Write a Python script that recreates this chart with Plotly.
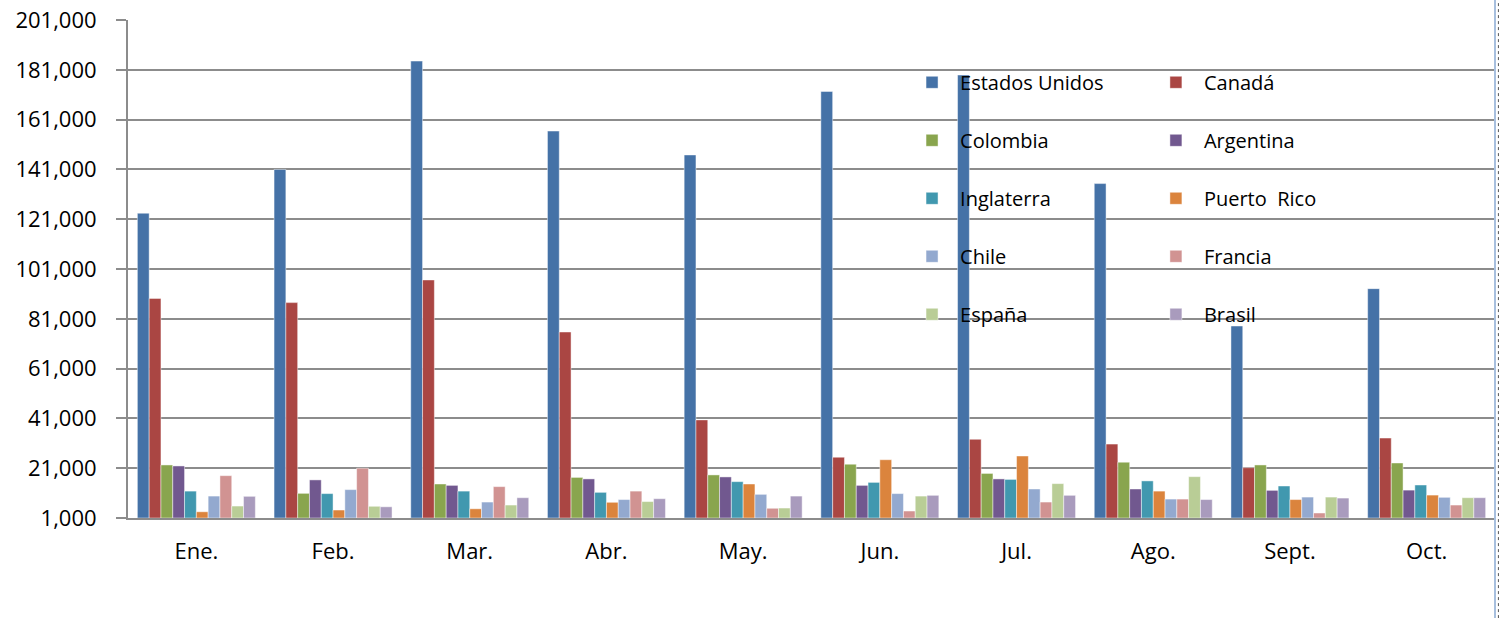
import plotly.graph_objects as go

months = ["Ene.", "Feb.", "Mar.", "Abr.", "May.", "Jun.", "Jul.", "Ago.", "Sept.", "Oct."]

estados_unidos = [123400, 141000, 184500, 156400, 146800, 172300, 178900, 135300, 78100, 93100]
canada         = [89200, 87500, 96600, 75700, 40400, 25400, 32600, 30700, 21200, 33100]
colombia       = [22300, 10900, 14650, 17300, 18300, 22600, 18900, 23400, 22300, 23100]
argentina      = [21900, 16300, 14100, 16700, 17500, 14100, 16700, 12650, 12100, 12200]
inglaterra     = [11800, 10800, 11800, 11300, 15600, 15300, 16500, 15900, 13850, 14250]
puerto_rico    = [3500, 4200, 4700, 7300, 14650, 24400, 25900, 11800, 8400, 10200]
chile          = [9800, 12400, 7400, 8400, 10500, 10800, 12650, 8600, 9400, 9300]
francia        = [18000, 21000, 13600, 11800, 4900, 3800, 7400, 8600, 3000, 6200]
espana         = [5800, 5700, 6200, 7600, 5000, 9800, 14800, 17600, 9400, 9150]
brasil         = [9700, 5500, 9150, 8750, 9800, 10100, 10100, 8400, 9000, 9150]

series_names = ["Estados Unidos", "Canadá", "Colombia", "Argentina", "Inglaterra",
                "Puerto  Rico", "Chile", "Francia", "España", "Brasil"]
series_values = [estados_unidos, canada, colombia, argentina, inglaterra,
                 puerto_rico, chile, francia, espana, brasil]
colors = ["#4572A7", "#AA4643", "#89A54E", "#71588F", "#4198AF",
          "#DB843D", "#93A9CF", "#D19392", "#B9CD96", "#A99BBD"]

AXIS_MIN = 1000
y_tickvals = list(range(1000, 201001, 20000))
y_ticktext = [f"{v:,}" for v in y_tickvals]

FONT = "Open Sans"

fig = go.Figure()
for i, (name, vals, col) in enumerate(zip(series_names, series_values, colors)):
    fig.add_trace(go.Bar(
        x=months, y=[v - AXIS_MIN for v in vals], base=AXIS_MIN, name=name,
        customdata=vals, hovertemplate="%{x}: %{customdata:,}<extra>" + name + "</extra>",
        marker=dict(color=col, line=dict(color="rgba(255,255,255,0.45)", width=1)),
        legend="legend" if i % 2 == 0 else "legend2",
        legendgroup=f"g{i}",
    ))

legend_common = dict(
    font=dict(family=FONT, size=20, color="#000000"),
    bgcolor="rgba(0,0,0,0)",
    itemwidth=46,
    tracegroupgap=29,
    orientation="v",
    xanchor="left", yanchor="top",
    itemclick=False, itemdoubleclick=False,
)

fig.update_layout(
    width=1502, height=618,
    margin=dict(l=128, r=7, t=20, b=100, autoexpand=False),
    paper_bgcolor="white", plot_bgcolor="white",
    barmode="group", bargap=0.137, bargroupgap=0,
    showlegend=True,
    legend=dict(x=0.5677, y=0.914, **legend_common),
    legend2=dict(x=0.7461, y=0.914, **legend_common),
    xaxis=dict(
        showgrid=False, showline=True, linecolor="#8C8C8C", linewidth=2,
        ticks="", tickfont=dict(family=FONT, size=22, color="#000000"),
        ticklabelstandoff=13, automargin=False,
    ),
    yaxis=dict(
        range=[1000, 201000], tickvals=y_tickvals, ticktext=y_ticktext,
        showgrid=True, gridcolor="#8C8C8C", gridwidth=2,
        showline=True, linecolor="#8C8C8C", linewidth=2,
        ticks="outside", ticklen=10, tickcolor="#8C8C8C", tickwidth=2,
        tickfont=dict(family=FONT, size=22, color="#000000"),
        ticklabelstandoff=15, zeroline=False, automargin=False,
    ),
    shapes=[
        dict(type="line", xref="paper", yref="paper", x0=1, x1=1, y0=-0.201, y1=1.04,
             line=dict(color="#A7BFDE", width=2)),
        dict(type="line", xref="paper", yref="paper", x0=1.0025, x1=1.0025, y0=-0.201, y1=1.04,
             line=dict(color="#555555", width=1, dash="dot")),
    ],
)

fig.write_html(
    "out.html",
    config={"displayModeBar": False},
    post_script="document.body.style.margin='0';document.body.style.padding='0';",
)
